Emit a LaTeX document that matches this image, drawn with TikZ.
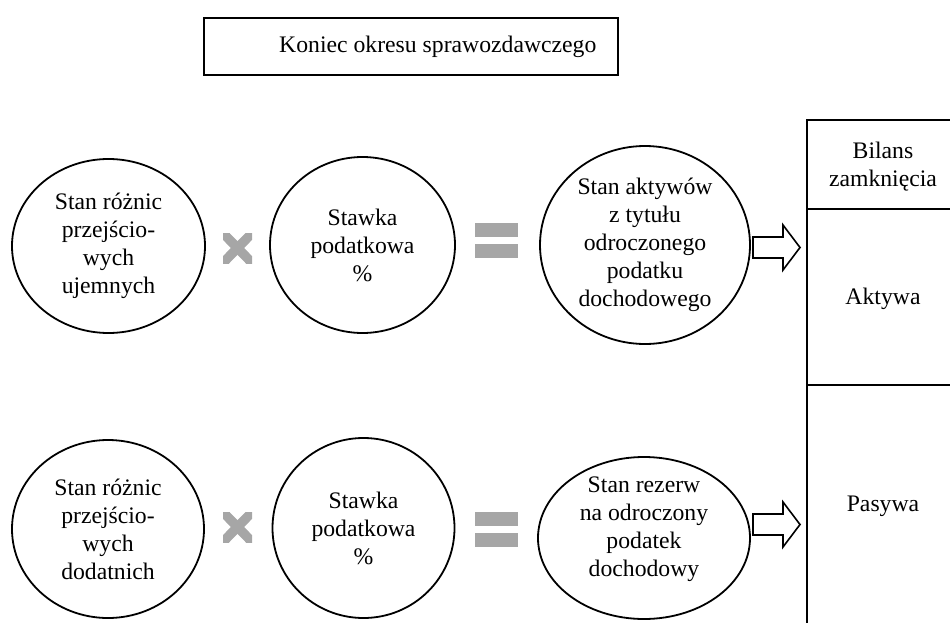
\documentclass[tikz,border=0pt]{standalone}
\usepackage{fontspec}
\setmainfont{Liberation Serif}
\usetikzlibrary{shapes.geometric}
\definecolor{symgray}{HTML}{A6A6A6}
\begin{document}
\begin{tikzpicture}[x=1pt,y=-1pt,
  lbl/.style={font=\fontsize{23.7pt}{28pt}\selectfont, align=center, inner sep=0pt},
  circ/.style={draw, ellipse, line width=1.8pt, inner sep=0pt},
  symfill/.style={fill=symgray, draw=none},
  blk/.style={draw, line width=1.6pt, fill=white, line join=miter},
  tline/.style={line width=1.8pt}]
\useasboundingbox (0,0) rectangle (950,623);

% top box
\node[draw, line width=1.8pt, minimum width=414pt, minimum height=57pt, inner sep=0pt] (top) at (411,46.5) {};
\node[lbl, anchor=west] (toptext) at (279,47) {Koniec okresu sprawozdawczego};

% row 1
\node[circ, lbl, draw, line width=1.8pt, minimum width=193pt, minimum height=174pt] (c1a) at (108.5,246) {Stan różnic\\przejścio-\\wych\\ujemnych};
\node[circ, lbl, draw, line width=1.8pt, minimum width=185pt, minimum height=176pt] (c2a) at (362.5,245) {Stawka\\podatkowa\\\%};
\node[circ, lbl, draw, line width=1.8pt, minimum width=210pt, minimum height=198pt] (c3a) at (645,245) {Stan aktywów\\z tytułu\\odroczonego\\podatku\\dochodowego};

% row 2
\node[circ, lbl, draw, line width=1.8pt, minimum width=192pt, minimum height=178pt] (c1b) at (108,529) {Stan różnic\\przejścio-\\wych\\dodatnich};
\node[circ, lbl, draw, line width=1.8pt, minimum width=182pt, minimum height=180pt] (c2b) at (363.5,528) {Stawka\\podatkowa\\\%};
\node[circ, draw, line width=1.8pt, minimum width=212pt, minimum height=162pt] (c3b) at (644,538) {};
\node[lbl] (c3btext) at (644,529) {Stan rezerw\\na odroczony\\podatek\\dochodowy};

% multiplication signs
\begin{scope}
  \clip (223,233) rectangle (252,263);
  \draw[symgray, line width=9.5pt] (218,228) -- (257,268);
  \draw[symgray, line width=9.5pt] (257,228) -- (218,268);
\end{scope}
\begin{scope}
  \clip (223,512) rectangle (252,542);
  \draw[symgray, line width=9.5pt] (218,507) -- (257,547);
  \draw[symgray, line width=9.5pt] (257,507) -- (218,547);
\end{scope}

% equals signs
\fill[symfill] (475,223) rectangle (518,237);
\fill[symfill] (475,244) rectangle (518,258);
\fill[symfill] (475,511.5) rectangle (518,525.5);
\fill[symfill] (475,532.5) rectangle (518,546.5);

% block arrows
\draw[blk] (753,237) -- (783,237) -- (783,225) -- (800,247.5) -- (783,270) -- (783,258) -- (753,258) -- cycle;
\draw[blk] (753,514) -- (783,514) -- (783,502) -- (800,524.5) -- (783,547) -- (783,535) -- (753,535) -- cycle;

% table
\draw[tline] (950,120) -- (807,120) -- (807,623);
\draw[tline] (807,209) -- (950,209);
\draw[tline] (807,385) -- (950,385);
\node[lbl] (bil) at (883,167) {Bilans\\zamknięcia};
\node[lbl] (akt) at (883,299) {Aktywa};
\node[lbl] (pas) at (883,506) {Pasywa};
\end{tikzpicture}
\end{document}
